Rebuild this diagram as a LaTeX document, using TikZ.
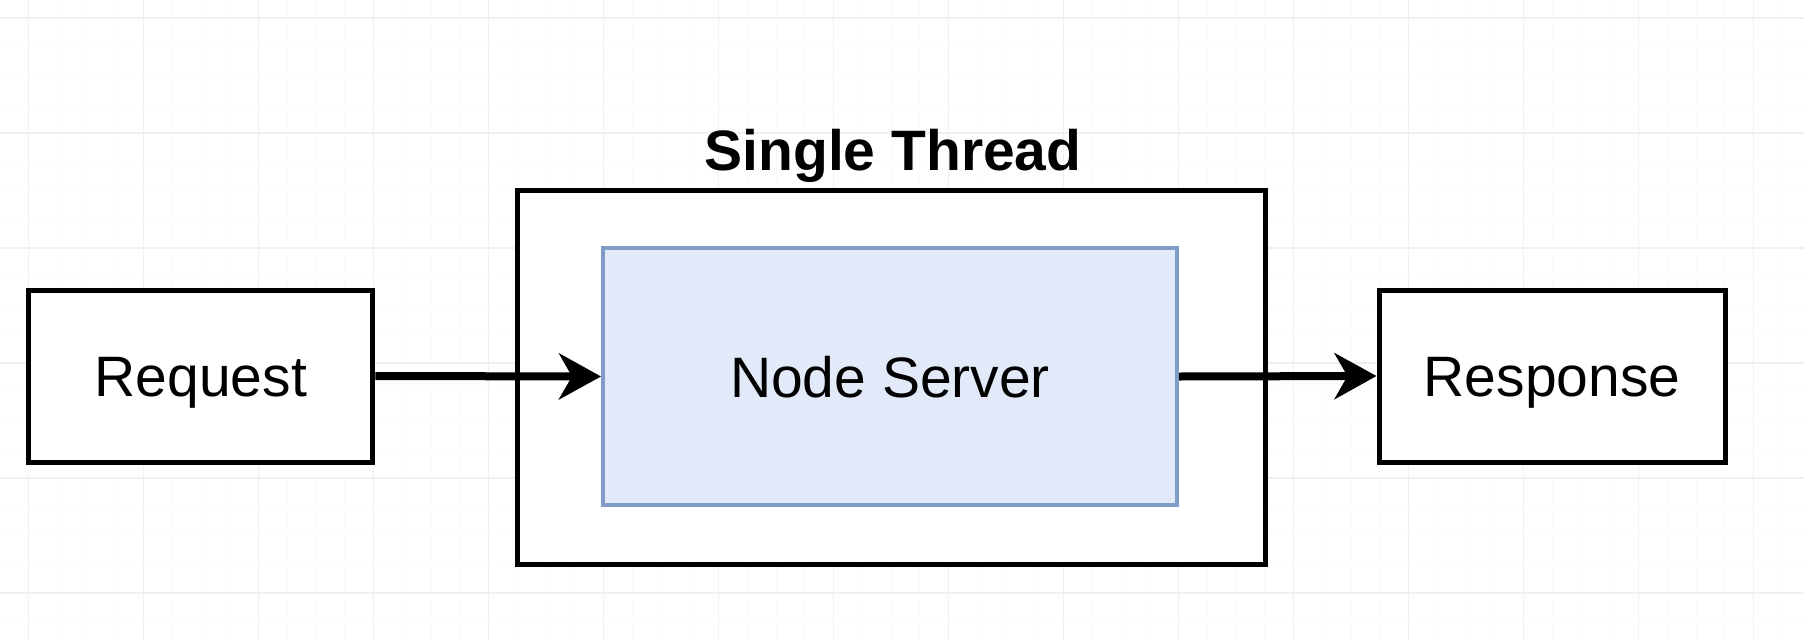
\documentclass[tikz,border=0pt]{standalone}
\usepackage{fontspec}
\setmainfont{Liberation Sans}
\usetikzlibrary{arrows.meta}
\definecolor{minorgrid}{HTML}{FAFAFA}
\definecolor{majorgrid}{HTML}{F0F0F0}
\definecolor{nsfill}{HTML}{E2EAF9}
\definecolor{nsdraw}{HTML}{819CC8}
\tikzset{
  minorline/.style={draw=minorgrid, line width=1pt},
  majorline/.style={draw=majorgrid, line width=1.2pt},
  capstext/.style={text height=41pt, text depth=0pt},
  plainbox/.style={draw=black, fill=white, line width=5pt, inner sep=0pt,
    font=\fontsize{57}{60}\selectfont, capstext},
  serverbox/.style={draw=nsdraw, fill=nsfill, line width=4pt, inner sep=0pt,
    font=\fontsize{57}{60}\selectfont, capstext},
  arr/.style={line width=8pt, -{Stealth[length=42pt, width=46pt, inset=13pt]}},
}
\begin{document}
\begin{tikzpicture}[x=1pt,y=-1pt]
\useasboundingbox[fill=white] (0,0) rectangle (1804,640);
% grid
\foreach \i in {-1,...,62} { \draw[minorline] ({28.7+28.75*\i},0) -- ({28.7+28.75*\i},640); }
\foreach \j in {-1,...,22} { \draw[minorline] (0,{18+28.75*\j}) -- (1804,{18+28.75*\j}); }
\foreach \i in {0,...,15} { \draw[majorline] ({28.7+115*\i},0) -- ({28.7+115*\i},640); }
\foreach \j in {0,...,5} { \draw[majorline] (0,{18+115*\j}) -- (1804,{18+115*\j}); }
% nodes
\node[plainbox, minimum width=344pt, minimum height=172pt] (req) at (200.85,376) {Request};
\node[plainbox, minimum width=748pt, minimum height=374pt] (thread) at (891,377) {};
\node[font=\bfseries\fontsize{57}{60}\selectfont, inner sep=0pt, capstext] (title) at (893,150) {Single Thread};
\node[serverbox, minimum width=574pt, minimum height=257pt] (ns) at (890,376.5) {Node Server};
\node[plainbox, minimum width=346pt, minimum height=172pt] (resp) at (1552,376) {Response};
% connectors
\draw[arr] (req.east) -- (ns.west);
\draw[arr] (ns.east) -- (resp.west);
\end{tikzpicture}
\end{document}
